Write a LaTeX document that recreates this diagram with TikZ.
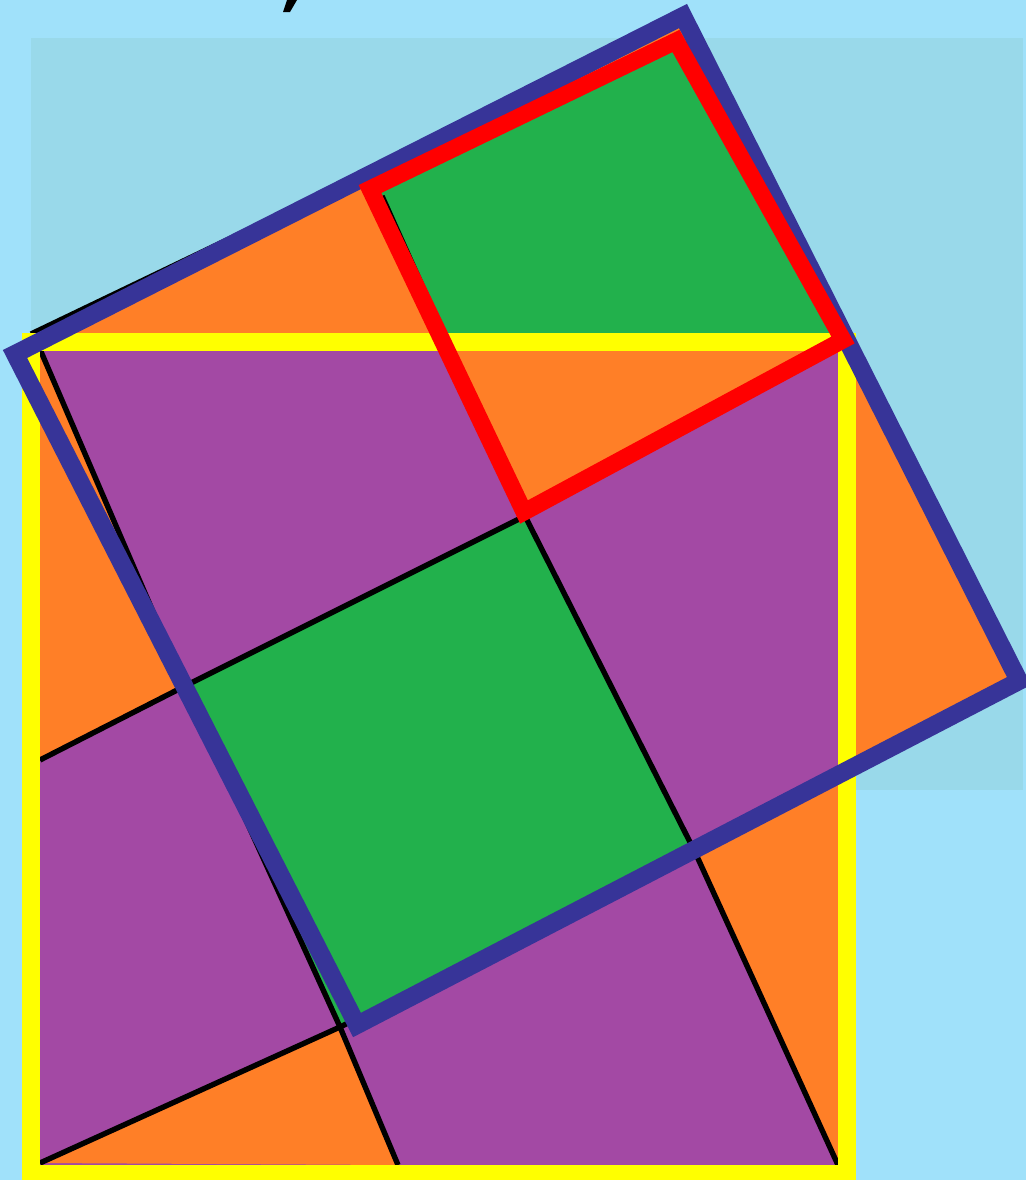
\documentclass[tikz,border=0pt]{standalone}
\definecolor{skyback}{RGB}{160,225,250}
\definecolor{panel}{RGB}{153,217,234}
\definecolor{tileorange}{RGB}{255,127,39}
\definecolor{tilegreen}{RGB}{34,177,76}
\definecolor{tilepurple}{RGB}{163,73,164}
\definecolor{edgeblue}{RGB}{55,52,152}
\definecolor{edgered}{RGB}{255,0,0}
\definecolor{edgeyellow}{RGB}{255,255,0}
\begin{document}
\begin{tikzpicture}[x=0.5pt,y=-0.5pt,
        lattice/.style={draw=black,line width=2.7pt,line join=round},
        yframe/.style={draw=edgeyellow,line width=9pt,line join=miter},
        bframe/.style={draw=edgeblue,line width=9pt,line join=miter},
        rframe/.style={draw=edgered,line width=8.5pt,line join=miter}]
    % backdrop
    \fill[skyback] (0,0) rectangle (1026,1180);
    \fill[panel] (31,38) rectangle (1023,790);
    \useasboundingbox (0,0) rectangle (1026,1180);
    \fill (287,0) -- (297,0) -- (290,12) -- (283,12) -- cycle;
    % corners of the squares
    \coordinate (bL) at (15,354);
    \coordinate (bT) at (683,16);
    \coordinate (bR) at (1019,681);
    \coordinate (bB) at (357,1025);
    \coordinate (rL) at (370,189);
    \coordinate (rT) at (676,41);
    \coordinate (rR) at (843,340);
    \coordinate (rB) at (524,512);
    \coordinate (yTL) at (31,342);
    \coordinate (yBR) at (847,1174);
    \coordinate (iTL) at (40,351);
    \coordinate (iBR) at (838,1165);
    % grid points
    \coordinate (A) at (185,686);
    \coordinate (B) at (525,516);
    \coordinate (C) at (695,852);
    \coordinate (D) at (340,1027);
    \coordinate (l1) at (40,760);
    \coordinate (l2) at (40,1163);
    \coordinate (l3) at (398,1165);
    \coordinate (l4) at (838,783);
    % tiles
    \fill[tileorange] (bL) -- (bT) -- (bR) -- (bB) -- cycle;
    \fill[tilegreen] (rL) -- (rT) -- (rR) -- (rB) -- cycle;
    \fill[tilepurple] (iTL) rectangle (iBR);
    \begin{scope}
        \clip (iTL) rectangle (iBR);
        \fill[tileorange] (rL) -- (rT) -- (rR) -- (rB) -- cycle;
        \fill[tileorange] (34,338) -- (A) -- (l1) -- (20,770) -- cycle;
        \fill[tilegreen] (A) -- (B) -- (C) -- (D) -- cycle;
        \fill[tileorange] (D) -- (l2) -- (l3) -- cycle;
        \fill[tileorange] (C) -- (l4) -- (iBR) -- cycle;
    \end{scope}
    % cut lines
    \draw[lattice] (36,340) -- (A) -- (D) -- (l3);
    \draw[lattice] (382,196) -- (B) -- (C) -- (iBR);
    \draw[lattice] (l1) -- (A) -- (B) -- (rR);
    \draw[lattice] (l2) -- (D) -- (C) -- (1012,690);
    \draw[lattice] (31,334) -- (300,205);
    \draw[lattice] (684,42) -- (850,334);
    % outlines
    \draw[yframe] (yTL) rectangle (yBR);
    \draw[bframe] (bL) -- (bT) -- (bR) -- (bB) -- cycle;
    \draw[rframe] (rL) -- (rT) -- (rR) -- (rB) -- cycle;
\end{tikzpicture}
\end{document}
